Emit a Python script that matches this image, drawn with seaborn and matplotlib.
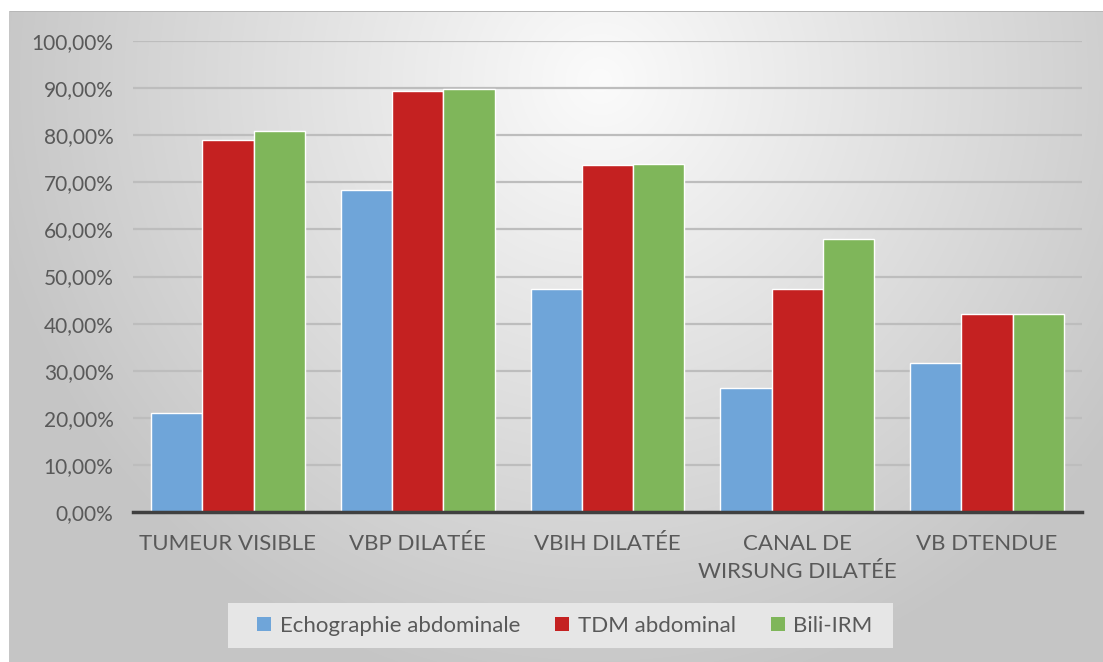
import numpy as np
import pandas as pd
import seaborn as sns
import matplotlib
matplotlib.use("Agg")
import matplotlib.pyplot as plt
from matplotlib.patches import Rectangle
from matplotlib.ticker import FuncFormatter, FixedLocator

# Data (percent of patients in whom each sign was detected)
categories = ["TUMEUR VISIBLE", "VBP DILATÉE", "VBIH DILATÉE",
              "CANAL DE\nWIRSUNG DILATÉE", "VB DTENDUE"]
methods = ["Echographie abdominale", "TDM abdominal", "Bili-IRM"]
echo_values = [21.05, 68.42, 47.37, 26.32, 31.58]
tdm_values = [78.95, 89.47, 73.68, 47.37, 42.11]
irm_values = [80.80, 89.80, 73.90, 57.89, 42.11]
y_ticks = [0, 10, 20, 30, 40, 50, 60, 70, 80, 90, 100]

colors = ["#6FA5D9", "#C42121", "#7FB65A"]
text_color = "#595959"

df = pd.DataFrame({
    "categorie": categories * 3,
    "methode": [methods[0]] * 5 + [methods[1]] * 5 + [methods[2]] * 5,
    "valeur": echo_values + tdm_values + irm_values,
})

sns.set_theme(style="white")
plt.rcParams["font.family"] = ["Lato", "DejaVu Sans"]

W, H = 1103, 662
fig = plt.figure(figsize=(W / 100, H / 100), dpi=100)
fig.patch.set_facecolor("white")

# Radial grey gradient backdrop
bg = fig.add_axes([0, 0, 1, 1])
bg.set_axis_off()
yy, xx = np.mgrid[0:H, 0:W]
r = np.sqrt(((xx - 600) / 650.0) ** 2 + ((yy - 80) / 650.0) ** 2)
shade = np.clip(251 - 56 * r, 197, 251) / 255.0
img = np.dstack([shade, shade, shade])
img[:11, :, :] = 1.0
img[:, :9, :] = 1.0
img[11, 9:, :] = 0.72
img[11:, 9, :] = 0.78
bg.imshow(img, extent=(0, W, H, 0), aspect="auto", interpolation="bilinear")
bg.set_xlim(0, W)
bg.set_ylim(H, 0)

# Legend panel
bg.add_patch(Rectangle((228, 603), 665, 45, facecolor="#E6E6E6",
                       edgecolor="none", zorder=2))

ax = fig.add_axes([133 / W, (H - 512) / H, 949 / W, 471 / H])
ax.set_facecolor("none")

sns.barplot(data=df, x="categorie", y="valeur", hue="methode",
            order=categories, hue_order=methods, palette=colors,
            width=0.81, edgecolor="white", linewidth=1.0,
            saturation=1.0, ax=ax, zorder=3)

ax.set_ylim(0, 100)
ax.set_xlim(-0.5, len(categories) - 0.5)
ax.yaxis.set_major_locator(FixedLocator(y_ticks))
ax.yaxis.set_major_formatter(
    FuncFormatter(lambda v, p: f"{v:.2f}".replace(".", ",") + "%"))
ax.grid(axis="y", color="#BDBDBD", linewidth=1.6, zorder=0)
ax.set_axisbelow(True)

for s in ["top", "right", "left"]:
    ax.spines[s].set_visible(False)
ax.spines["bottom"].set_color("#404040")
ax.spines["bottom"].set_linewidth(2.5)
ax.spines["bottom"].set_zorder(5)

ax.set_xticks(np.arange(-0.5, len(categories), 1.0), minor=True)
ax.tick_params(axis="x", which="minor", length=6, width=2,
               color="#404040", direction="out")
ax.tick_params(axis="x", which="major", length=0, pad=16,
               labelsize=16, labelcolor=text_color)
ax.tick_params(axis="y", length=0, pad=14, labelsize=15,
               labelcolor=text_color)
for lbl in ax.get_xticklabels():
    lbl.set_linespacing(1.5)
    lbl.set_verticalalignment("top")

ax.set_xlabel("")
ax.set_ylabel("")

handles, labels = ax.get_legend_handles_labels()
ax.get_legend().remove()
leg = fig.legend(handles, labels, loc="center",
                 bbox_to_anchor=(565 / W, 1 - 626 / H), ncol=3,
                 frameon=False, fontsize=16,
                 handlelength=0.6, handleheight=0.6, handletextpad=0.4,
                 columnspacing=1.6, borderpad=0.0, labelcolor=text_color)
for h in leg.legend_handles:
    h.set_edgecolor("none")

fig.savefig("out.png", dpi=100)
